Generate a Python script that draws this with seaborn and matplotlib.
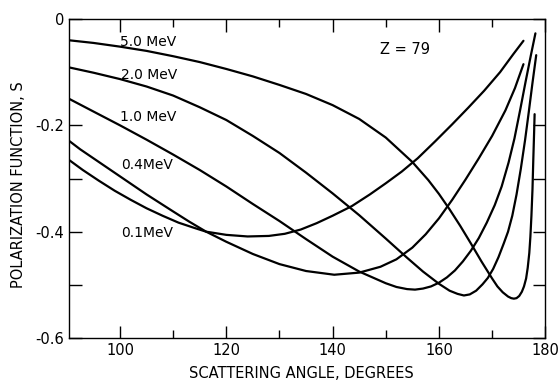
import matplotlib
matplotlib.use('Agg')

import pandas as pd
import matplotlib.pyplot as plt
import seaborn as sns

# polarization function S vs scattering angle, Z = 79
energies = ["0.1 MeV", "0.4 MeV", "1.0 MeV", "2.0 MeV", "5.0 MeV"]

angle_01 = [90.4, 93, 96, 99, 102, 105, 108, 111, 114, 116.2, 120, 124, 128, 131, 134,
            137, 140, 143.6, 147, 150, 153, 156, 159.3, 162.5, 165.5, 168.5, 171.5,
            174, 175.9]
s_01 = [-0.265, -0.284, -0.304, -0.323, -0.340, -0.356, -0.370, -0.383, -0.393, -0.400,
        -0.406, -0.409, -0.408, -0.404, -0.396, -0.384, -0.370, -0.352, -0.330, -0.309,
        -0.287, -0.262, -0.230, -0.198, -0.167, -0.135, -0.100, -0.066, -0.041]

angle_04 = [90.4, 92.5, 95, 97.5, 100, 102.5, 105, 107.5, 110, 113, 116.2, 120, 125,
            130, 135, 140.3, 145, 149, 152, 155, 157.5, 160, 162.5, 165, 167.5, 170,
            172.5, 174.3, 175.9]
s_04 = [-0.229, -0.245, -0.262, -0.279, -0.296, -0.313, -0.330, -0.346, -0.362, -0.381,
        -0.400, -0.419, -0.442, -0.461, -0.474, -0.481, -0.477, -0.466, -0.452, -0.430,
        -0.405, -0.375, -0.340, -0.302, -0.262, -0.220, -0.172, -0.130, -0.085]

angle_10 = [90.4, 95, 100, 105, 110, 115, 120, 125, 130, 135, 140, 145, 150, 152, 154,
            155.5, 157, 158.5, 160, 161.5, 163, 164.5, 166, 167.5, 169, 170.5, 171.8,
            173.1, 174.2, 175.3, 176.3, 177.3, 178.15]
s_10 = [-0.150, -0.174, -0.200, -0.227, -0.255, -0.284, -0.315, -0.348, -0.380, -0.414,
        -0.447, -0.475, -0.497, -0.504, -0.508, -0.509, -0.507, -0.503, -0.496, -0.486,
        -0.473, -0.456, -0.436, -0.412, -0.383, -0.350, -0.315, -0.270, -0.225, -0.170,
        -0.118, -0.068, -0.027]

angle_20 = [90.4, 95, 100, 105, 110, 115, 120, 125, 130, 135, 140, 145, 150, 154, 157,
            160, 162, 163.5, 164.7, 165.8, 167, 168.2, 169.2, 170.2, 171.2, 172.2, 173.0,
            173.8, 174.6, 175.4, 176.2, 176.9, 177.6, 178.3]
s_20 = [-0.091, -0.101, -0.113, -0.127, -0.144, -0.166, -0.190, -0.220, -0.252, -0.289,
        -0.328, -0.369, -0.413, -0.449, -0.475, -0.498, -0.511, -0.517, -0.520, -0.518,
        -0.511, -0.499, -0.487, -0.470, -0.448, -0.422, -0.400, -0.370, -0.330, -0.282,
        -0.228, -0.175, -0.120, -0.068]

angle_50 = [90.4, 95, 100, 105, 110, 115, 120, 125, 130, 135, 140, 145, 150, 155, 158,
            160, 162, 164, 166, 168, 170, 171, 172, 173, 173.6, 174.1, 174.6, 175.1,
            175.6, 176.0, 176.4, 176.7, 177.0, 177.2, 177.4, 177.6, 177.75, 177.9, 178.0]
s_50 = [-0.040, -0.045, -0.052, -0.060, -0.070, -0.081, -0.094, -0.108, -0.124, -0.141,
        -0.162, -0.188, -0.223, -0.269, -0.303, -0.329, -0.358, -0.389, -0.422, -0.456,
        -0.488, -0.503, -0.514, -0.522, -0.525, -0.526, -0.525, -0.521, -0.513, -0.503,
        -0.488, -0.468, -0.440, -0.410, -0.370, -0.320, -0.265, -0.215, -0.179]

x_ticks = [100, 120, 140, 160, 180]
x_labels = ["100", "120", "140", "160", "180"]
y_ticks = [0, -0.2, -0.4, -0.6]
y_labels = ["0", "-0.2", "-0.4", "-0.6"]

frames = []
for name, xs, ys in zip(energies, [angle_01, angle_04, angle_10, angle_20, angle_50],
                        [s_01, s_04, s_10, s_20, s_50]):
    frames.append(pd.DataFrame({"angle": xs, "S": ys, "energy": name}))
df = pd.concat(frames, ignore_index=True)

sns.set_style("ticks")
plt.rcParams['font.family'] = ['DejaVu Sans']
plt.rcParams['text.color'] = 'black'
plt.rcParams['axes.labelcolor'] = 'black'
plt.rcParams['xtick.color'] = 'black'
plt.rcParams['ytick.color'] = 'black'

fig = plt.figure(figsize=(5.59, 3.80), dpi=100)
ax = fig.add_axes([0.1234, 0.1105, 0.852, 0.8395])

sns.lineplot(data=df, x="angle", y="S", hue="energy", palette=["black"] * 5,
             estimator=None, sort=False, legend=False, linewidth=1.6, ax=ax)
for ln in ax.get_lines():
    ln.set_solid_joinstyle('round')

ax.set_xlim(90.4, 180)
ax.set_ylim(-0.6, 0)

ax.set_xticks(x_ticks)
ax.set_xticklabels(x_labels)
ax.set_xticks([110, 130, 150, 170], minor=True)
ax.set_yticks(y_ticks)
ax.set_yticklabels(y_labels)
ax.set_yticks([-0.3, -0.5], minor=True)

ax.tick_params(axis='x', which='major', direction='in', length=9, width=1,
               top=True, labelsize=10.5)
ax.tick_params(axis='x', which='minor', direction='in', length=6, width=1, top=True)
ax.tick_params(axis='y', which='both', direction='in', length=9, width=1,
               right=True, labelsize=10.5)

for sp in ax.spines.values():
    sp.set_linewidth(1.0)
    sp.set_color('black')

ax.set_xlabel("SCATTERING ANGLE, DEGREES", fontsize=10.5, va='center')
ax.xaxis.set_label_coords(0.487, -0.11)
ax.set_ylabel("POLARIZATION FUNCTION, S", fontsize=10.5, va='center')
ax.yaxis.set_label_coords(-0.106, 0.48)

# curve labels
ax.text(100, -0.043, "5.0 MeV", fontsize=10, va='center')
ax.text(100.2, -0.105, "2.0 MeV", fontsize=10, va='center')
ax.text(100, -0.184, "1.0 MeV", fontsize=10, va='center')
ax.text(100.2, -0.275, "0.4MeV", fontsize=10, va='center')
ax.text(100.2, -0.402, "0.1MeV", fontsize=10, va='center')
ax.text(149, -0.057, "Z = 79", fontsize=10.5, va='center')

fig.savefig("out.png", dpi=100)
